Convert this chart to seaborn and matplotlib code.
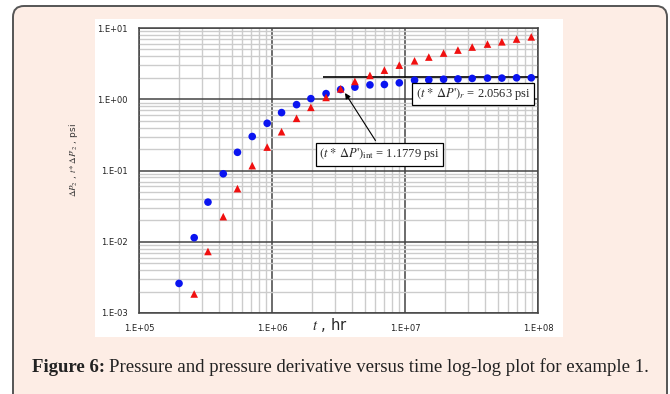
import numpy as np
import pandas as pd
import matplotlib
matplotlib.use('Agg')
import matplotlib.pyplot as plt
import seaborn as sns
from matplotlib.patches import FancyBboxPatch, Rectangle
from matplotlib.transforms import IdentityTransform
from matplotlib.ticker import LogLocator, FixedLocator, NullFormatter

# pressure drop (blue circles)
t_dp = [2.0e5, 2.6e5, 3.3e5, 4.3e5, 5.5e5, 7.1e5, 9.2e5, 1.18e6, 1.53e6, 1.96e6,
        2.55e6, 3.28e6, 4.2e6, 5.45e6, 7.0e6, 9.06e6, 1.18e7, 1.51e7, 1.95e7,
        2.5e7, 3.2e7, 4.17e7, 5.35e7, 6.9e7, 8.9e7]
dp = [0.0026, 0.0114, 0.036, 0.09, 0.18, 0.30, 0.46, 0.65, 0.84, 1.02,
      1.2, 1.37, 1.48, 1.59, 1.61, 1.70, 1.85, 1.87, 1.91,
      1.93, 1.96, 1.98, 1.98, 2.0, 2.0]

# pressure derivative (red triangles)
t_der = [2.6e5, 3.3e5, 4.3e5, 5.5e5, 7.1e5, 9.2e5, 1.18e6, 1.53e6, 1.96e6,
         2.55e6, 3.28e6, 4.2e6, 5.45e6, 7.0e6, 9.06e6, 1.18e7, 1.51e7, 1.95e7,
         2.5e7, 3.2e7, 4.17e7, 5.35e7, 6.9e7, 8.9e7]
der = [0.00185, 0.0073, 0.0225, 0.0557, 0.117, 0.213, 0.35, 0.54, 0.77,
       1.06, 1.40, 1.78, 2.16, 2.56, 3.01, 3.46, 3.91, 4.45,
       4.9, 5.4, 5.95, 6.4, 7.0, 7.5]

x_ticks = [1e5, 1e6, 1e7, 1e8]
x_tick_labels = ['1.E+05', '1.E+06', '1.E+07', '1.E+08']
y_ticks = [1e-3, 1e-2, 1e-1, 1e0, 1e1]
y_tick_labels = ['1.E-03', '1.E-02', '1.E-01', '1.E+00', '1.E+01']

tdp_r = 2.0563
tdp_int = 1.1779

df = pd.concat([
    pd.DataFrame({'t': t_dp, 'value': dp, 'series': 'dp'}),
    pd.DataFrame({'t': t_der, 'value': der, 'series': 'der'}),
])

sns.set_style('white')
plt.rcParams['font.family'] = ['DejaVu Sans']
plt.rcParams['mathtext.fontset'] = 'stix'

fig = plt.figure(figsize=(6.7, 3.94), dpi=100)
fig.patch.set_facecolor('white')

# rounded peach card + white chart panel
card = FancyBboxPatch((13, -30), 654, 418, boxstyle='round,pad=0,rounding_size=11',
                      transform=IdentityTransform(), facecolor='#fdede5',
                      edgecolor='#555555', linewidth=1.4, zorder=0)
fig.patches.append(card)
panel = Rectangle((95 / 670, 1 - 337 / 394), 468 / 670, 318 / 394,
                  transform=fig.transFigure, facecolor='white', edgecolor='none', zorder=1)
fig.patches.append(panel)

ax = fig.add_axes([139 / 670, 1 - 313 / 394, 399 / 670, 285 / 394])
ax.set_zorder(3)
ax.set_facecolor('none')

sns.scatterplot(data=df, x='t', y='value', hue='series', style='series',
                palette={'dp': '#0a14f0', 'der': '#f01010'},
                markers={'dp': 'o', 'der': '^'}, s=30, linewidth=0,
                legend=False, ax=ax, zorder=5)

ax.set_xscale('log')
ax.set_yscale('log')
ax.set_xlim(1e5, 1e8)
ax.set_ylim(1e-3, 1e1)

ax.xaxis.set_major_locator(FixedLocator(x_ticks))
ax.yaxis.set_major_locator(FixedLocator(y_ticks))
ax.set_xticklabels(x_tick_labels)
ax.set_yticklabels(y_tick_labels)
ax.xaxis.set_minor_locator(LogLocator(base=10, subs=np.arange(2, 10)))
ax.yaxis.set_minor_locator(LogLocator(base=10, subs=np.arange(2, 10)))
ax.xaxis.set_minor_formatter(NullFormatter())
ax.yaxis.set_minor_formatter(NullFormatter())

ax.grid(which='minor', color='#cccccc', linewidth=1.0, zorder=1)
ax.grid(which='major', color='#444444', linewidth=1.1, zorder=2)
ax.set_axisbelow(True)
for sp in ax.spines.values():
    sp.set_color('#444444')
    sp.set_linewidth(1.1)
ax.tick_params(which='both', length=0, labelsize=6, pad=8, colors='#222222')
ax.set_xlabel('')
ax.set_ylabel('')

# radial flow line
ax.hlines(tdp_r, 2.4e6, 1e8, color='black', linewidth=1.2, zorder=4)

box = dict(boxstyle='square,pad=0.25', facecolor='white', edgecolor='black', linewidth=0.9)
ax.text(1.2e7, 1.19, r"$(t\,*\,\Delta P\text{'})_{r}$ = %.4f psi" % tdp_r,
        fontsize=9, family='Liberation Serif', ha='left', va='center',
        bbox=box, zorder=6)
ax.annotate(r"$(t\,*\,\Delta P\text{'})_{\rm int}$ = %.4f psi" % tdp_int,
            xy=(3.45e6, 1.32), xytext=(2.25e6, 0.168),
            fontsize=9, family='Liberation Serif', ha='left', va='center',
            bbox=box, zorder=6,
            arrowprops=dict(arrowstyle='-|>', color='black', lw=0.8,
                            mutation_scale=8, relpos=(0.5, 1.0)))

fig.text(330 / 670, 1 - 325 / 394, r'$\it{t}$ , hr', fontsize=10.5,
         ha='center', va='center', zorder=3)
fig.text(73 / 670, 1 - 160 / 394, r"$\Delta P_2$ , $t*\Delta P\text{'}_2$ , psi", fontsize=6.5,
         rotation=90, ha='center', va='center', color='#333333', zorder=3)

# caption
cap1 = fig.text(32 / 670, 1 - 367 / 394, 'Figure 6:', fontsize=13.5,
                family='Liberation Serif', fontweight='bold', ha='left',
                va='center', color='#222222', zorder=3)
ax.annotate('Pressure and pressure derivative versus time log-log plot for example 1.',
            xy=(1, 0.5), xycoords=cap1, xytext=(3, 0), textcoords='offset points',
            fontsize=13.5, family='Liberation Serif', ha='left', va='center',
            color='#222222', annotation_clip=False)

fig.savefig('out.png', dpi=100)
